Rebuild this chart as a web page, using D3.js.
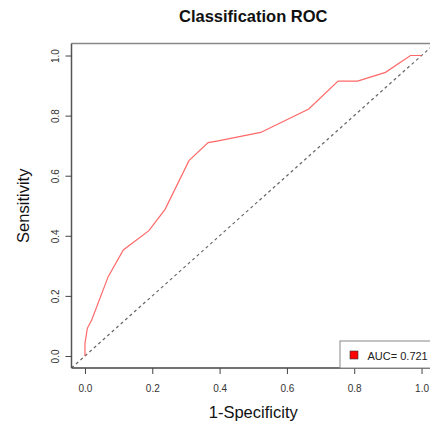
<!DOCTYPE html>
<html><head><meta charset="utf-8">
<script src="https://cdn.jsdelivr.net/npm/d3@7"></script>
<style>body{margin:0;background:#fff;} text{font-family:"Liberation Sans",Arial,sans-serif;}</style>
</head><body>
<svg id="c" width="430" height="426"></svg>
<script>
const fpr = [0, 0, 0.007, 0.020, 0.069, 0.114, 0.190, 0.238, 0.309, 0.366, 0.396, 0.522, 0.665, 0.752, 0.810, 0.893, 0.967, 1.0];
const tpr = [0, 0.042, 0.092, 0.120, 0.264, 0.353, 0.417, 0.488, 0.650, 0.710, 0.716, 0.744, 0.822, 0.915, 0.915, 0.944, 1.0, 1.0];
const xTicks = [0, 0.2, 0.4, 0.6, 0.8, 1.0];
const yTicks = [0, 0.2, 0.4, 0.6, 0.8, 1.0];
const aucLabel = "AUC= 0.721";
const title = "Classification ROC";

const svg = d3.select("#c");
const L = 71.5, R = 435, T = 43.5, B = 368;
const x = d3.scaleLinear().domain([-0.04, 1.04]).range([L, R]);
const y = d3.scaleLinear().domain([-0.04, 1.04]).range([B, T]);

svg.append("defs").append("clipPath").attr("id","pc")
  .append("rect").attr("x",L).attr("y",T).attr("width",R-L).attr("height",B-T);

// diagonal reference
svg.append("line").attr("clip-path","url(#pc)")
  .attr("x1",x(-0.04)).attr("y1",y(-0.04)).attr("x2",x(1.04)).attr("y2",y(1.04))
  .attr("stroke","#666").attr("stroke-width",1.2).attr("stroke-dasharray","3,3");

// ROC curve
const pts = fpr.map((d,i)=>[d,tpr[i]]);
svg.append("path").datum(pts)
  .attr("d", d3.line().x(d=>x(d[0])).y(d=>y(d[1])))
  .attr("fill","none").attr("stroke","#ff4d4d").attr("stroke-width",1.2).attr("stroke-opacity",0.85);

// box
svg.append("line").attr("x1",L).attr("x2",R).attr("y1",T).attr("y2",T).attr("stroke","#888").attr("stroke-width",1.5);
svg.append("line").attr("x1",L).attr("x2",L).attr("y1",T).attr("y2",B).attr("stroke","#555").attr("stroke-width",1.5);
svg.append("line").attr("x1",L).attr("x2",R).attr("y1",B).attr("y2",B).attr("stroke","#444").attr("stroke-width",1.5);

// axes
const xa = svg.append("g").attr("transform",`translate(0,${B})`)
  .call(d3.axisBottom(x).tickValues(xTicks).tickFormat(d3.format(".1f")).tickSize(6).tickPadding(11));
const ya = svg.append("g").attr("transform",`translate(${L},0)`)
  .call(d3.axisLeft(y).tickValues(yTicks).tickFormat(d3.format(".1f")).tickSize(6).tickPadding(8));
[xa,ya].forEach(g=>{
  g.select(".domain").remove();
  g.selectAll(".tick line").attr("stroke","#444");
  g.selectAll(".tick text").attr("fill","#333").style("font-size","10px").style("font-family","'Liberation Sans',Arial,sans-serif");
});
ya.selectAll(".tick text").attr("text-anchor","middle")
  .attr("transform","translate(-16,0) rotate(-90)").attr("x",0).attr("y",0).attr("dy","0.35em");

// title & labels
svg.append("text").attr("x",(L+R)/2).attr("y",22).attr("text-anchor","middle")
  .style("font-size","16.5px").style("font-weight","bold").attr("fill","#111").text(title);
svg.append("text").attr("x",(L+R)/2).attr("y",418).attr("text-anchor","middle")
  .style("font-size","16.5px").attr("fill","#111").text("1-Specificity");
svg.append("text").attr("transform",`translate(29,${(T+B)/2}) rotate(-90)`).attr("text-anchor","middle")
  .style("font-size","16.5px").attr("fill","#111").text("Sensitivity");

// legend
const lg = svg.append("g");
lg.append("rect").attr("x",340).attr("y",341).attr("width",100).attr("height",B-341)
  .attr("fill","#fff").attr("stroke","#888").attr("stroke-width",1);
lg.append("rect").attr("x",350).attr("y",351).attr("width",8).attr("height",8)
  .attr("fill","#ff0000").attr("stroke","#333").attr("stroke-width",0.6);
lg.append("text").attr("x",367.5).attr("y",359.5).style("font-size","11px").attr("fill","#222").text(aucLabel);
</script>
</body></html>
